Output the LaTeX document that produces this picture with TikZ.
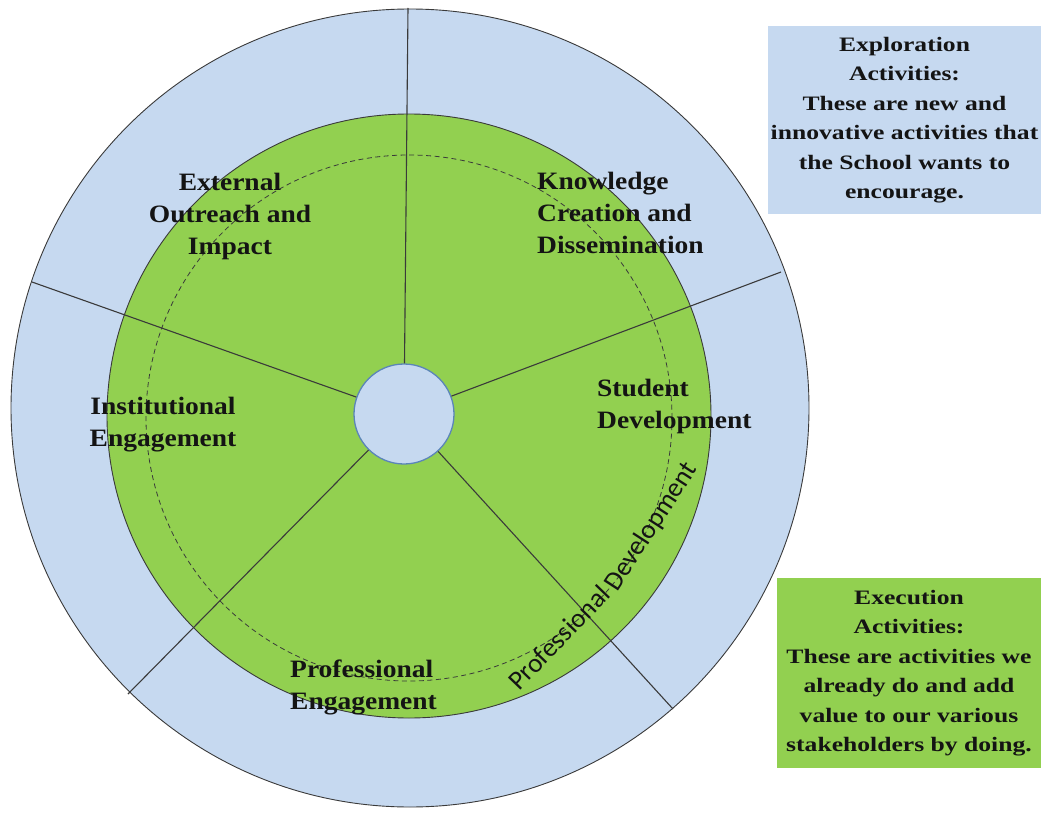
\documentclass[tikz,border=0pt]{standalone}
\usepackage{fontspec}
\newfontfamily\wheelfont[FakeStretch=1.1]{Liberation Serif}
\newfontfamily\boxfont[FakeStretch=1.25]{Liberation Serif}
\newfontfamily\pdfont{Carlito}
\definecolor{ringblue}{HTML}{C6D9F0}
\definecolor{leafgreen}{HTML}{92D050}
\definecolor{hubline}{HTML}{5B85B8}
\definecolor{spoke}{HTML}{3A3A3A}
\definecolor{txt}{HTML}{141414}
\tikzset{
  ringedge/.style={draw=spoke, line width=0.9pt},
  spokeline/.style={draw=spoke, line width=1.1pt},
  wheellabel/.style={inner sep=0pt, text=txt, font=\wheelfont\bfseries\fontsize{25}{32}\selectfont},
  pdlabel/.style={inner sep=0pt, anchor=base west, text=txt, font=\pdfont\fontsize{27}{30}\selectfont},
  infobox/.style={inner sep=0pt, text=txt, align=center,
     font=\boxfont\bfseries\fontsize{20.5}{29.5}\selectfont},
}
\begin{document}
\begin{tikzpicture}[x=1pt,y=-1pt]
\useasboundingbox (0,0) rectangle (1041,813);
% rings
\path[ringedge, fill=ringblue] (410,408) circle[radius=399pt];
\path[ringedge, fill=leafgreen] (409,416) circle[radius=302pt];
\draw[spoke, line width=0.8pt, dash pattern=on 5pt off 3.5pt] (409,418) circle[radius=263pt];
% hub
\node[circle, fill=ringblue, draw=hubline, line width=1.3pt, minimum size=100pt, inner sep=0pt] (hub) at (404,414) {};
% spoke ends
\coordinate (s1) at (408,8);
\coordinate (s2) at (781,272);
\coordinate (s3) at (673,709);
\coordinate (s4) at (128,694);
\coordinate (s5) at (32,282);
\foreach \s in {s1,s2,s3,s4,s5} { \draw[spokeline] (hub) -- (\s); }
% labels
\node[wheellabel, align=center] (ext) at (230,216) {External\\Outreach and\\Impact};
\node[wheellabel, align=left, anchor=west] (know) at (537,213) {Knowledge\\Creation and\\Dissemination};
\node[wheellabel, align=left, anchor=west] (stud) at (597,406) {Student\\Development};
\node[wheellabel, align=center] (inst) at (163,425) {Institutional\\Engagement};
\node[wheellabel, align=left, anchor=west] (prof) at (290,687) {Professional\\Engagement};
% curved label, in two pieces
\node[pdlabel, rotate=46] (pda) at (519,692) {Professional};
\node[pdlabel, rotate=57] (pdb) at (617,593) {Development};
% boxes
\node[infobox, fill=ringblue, minimum width=273pt, minimum height=188pt] (explore) at (904.5,120)
  {Exploration\\Activities:\\These are new and\\innovative activities that\\the School wants to\\encourage.};
\node[infobox, fill=leafgreen, minimum width=264pt, minimum height=190pt] (exec) at (909,673)
  {Execution\\Activities:\\These are activities we\\already do and add\\value to our various\\stakeholders by doing.};
\end{tikzpicture}
\end{document}
